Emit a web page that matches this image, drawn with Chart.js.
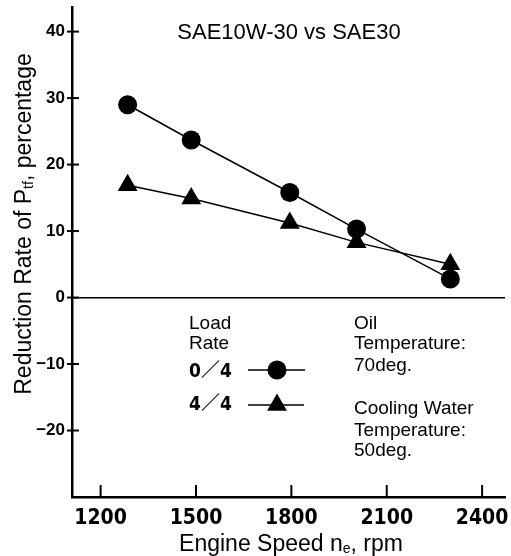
<!DOCTYPE html>
<html>
<head>
<meta charset="utf-8">
<title>Reduction Rate of Ptf vs Engine Speed</title>
<script src="https://cdn.jsdelivr.net/npm/chart.js@4.4.0/dist/chart.umd.min.js"></script>
<style>
  html, body { margin: 0; padding: 0; background: #fff; }
  #wrap { width: 511px; height: 556px; }
</style>
</head>
<body>
<div id="wrap"><canvas id="chart"></canvas></div>
<script>
// engine speed (rpm) of the measured points
const speedNoLoad = [1285, 1485, 1795, 2005, 2300]
const speedFullLoad = [1285, 1485, 1795, 2005, 2300]
// reduction rate of Ptf (%)
const rateNoLoad = [29.0, 23.7, 15.8, 10.3, 2.8]    // load rate 0/4
const rateFullLoad = [16.9, 14.9, 11.2, 8.3, 5.0]   // load rate 4/4
const xTicks = [1200, 1500, 1800, 2100, 2400]
const yTicks = [-20, -10, 0, 10, 20, 30, 40]
const loadLabels = ['0\uFF0F4', '4\uFF0F4']
const noteLines = ['Oil', 'Temperature:', '70deg.', 'Cooling Water', 'Temperature:', '50deg.']

const SANS = '"Liberation Sans", Arial, Helvetica, sans-serif'
const DIGITS = '"Liberation Sans Narrow", "DejaVu Sans Condensed", "Liberation Sans", Arial, "Noto Sans CJK JP", sans-serif'

function toPoints(xs, ys) {
    return xs.map((x, i) => ({ x: x, y: ys[i] }))
}

// text with a small subscript part, e.g. P + tf
function drawParts(ctx, parts, x, y, align) {
    let total = 0
    parts.forEach(p => { ctx.font = p.font; total += ctx.measureText(p.text).width })
    let cx = align === 'center' ? x - total / 2 : x
    parts.forEach(p => {
        ctx.font = p.font
        ctx.fillText(p.text, cx, y + (p.dy || 0))
        cx += ctx.measureText(p.text).width
    })
}

function marker(ctx, style, radius, x, y) {
    ctx.beginPath()
    if (style === 'circle') {
        ctx.arc(x, y, radius, 0, Math.PI * 2)
    } else {
        for (let i = 0; i < 3; i++) {
            const a = i * 2 * Math.PI / 3
            const px = x + Math.sin(a) * radius, py = y - Math.cos(a) * radius
            if (i === 0) ctx.moveTo(px, py); else ctx.lineTo(px, py)
        }
        ctx.closePath()
    }
    ctx.fill()
}

const decorations = {
    id: 'decorations',
    afterDraw(chart) {
        const ctx = chart.ctx
        const xs = chart.scales.x, ys = chart.scales.y
        const area = chart.chartArea
        ctx.save()
        ctx.strokeStyle = '#000'
        ctx.fillStyle = '#000'
        ctx.lineWidth = 2

        // tick marks: y ticks cross the axis, x ticks point inward
        yTicks.forEach(v => {
            const py = ys.getPixelForValue(v)
            ctx.beginPath(); ctx.moveTo(area.left - 5, py); ctx.lineTo(area.left + 7, py); ctx.stroke()
        })
        xTicks.forEach(v => {
            const px = xs.getPixelForValue(v)
            ctx.beginPath(); ctx.moveTo(px, area.bottom); ctx.lineTo(px, area.bottom - 12); ctx.stroke()
        })

        ctx.textBaseline = 'alphabetic'
        ctx.textAlign = 'left'

        // title inside plot
        ctx.font = '22px ' + SANS
        ctx.textAlign = 'center'
        ctx.fillText('SAE10W-30 vs SAE30', 289, 39)
        ctx.textAlign = 'left'

        // x axis title
        drawParts(ctx, [
            { text: 'Engine Speed n', font: '23px ' + SANS },
            { text: 'e', font: '14px ' + SANS, dy: 2 },
            { text: ', rpm', font: '23px ' + SANS }
        ], 291, 551, 'center')

        // y axis title
        ctx.save()
        ctx.translate(31, 224)
        ctx.rotate(-Math.PI / 2)
        drawParts(ctx, [
            { text: 'Reduction Rate of P', font: '23px ' + SANS },
            { text: 'tf', font: '14px ' + SANS, dy: 2 },
            { text: ', percentage', font: '23px ' + SANS }
        ], 0, 0, 'center')
        ctx.restore()

        // legend
        ctx.font = '19px ' + SANS
        ctx.fillText('Load', 189, 329)
        ctx.fillText('Rate', 189, 349)
        ctx.font = 'bold 19px ' + DIGITS
        ctx.textBaseline = 'middle'
        ctx.fillText(loadLabels[0], 189, 372)
        ctx.fillText(loadLabels[1], 189, 405)
        ctx.textBaseline = 'alphabetic'
        ctx.lineWidth = 1.5
        ctx.beginPath(); ctx.moveTo(248, 370); ctx.lineTo(305, 370); ctx.stroke()
        ctx.beginPath(); ctx.moveTo(248, 405); ctx.lineTo(304, 405); ctx.stroke()
        marker(ctx, 'circle', 9.5, 277, 370)
        marker(ctx, 'triangle', 11.5, 277, 405)

        // test conditions
        ctx.font = '19px ' + SANS
        const baselines = [329, 349, 371, 414, 436, 456]
        noteLines.forEach((t, i) => ctx.fillText(t, 354, baselines[i]))

        ctx.restore()
    }
}

const ctx = document.getElementById('chart')
new Chart(ctx, {
    type: 'line',
    data: {
        datasets: [{
            label: 'Load Rate 0/4',
            data: toPoints(speedNoLoad, rateNoLoad),
            borderColor: '#000',
            backgroundColor: '#000',
            borderWidth: 1.5,
            pointStyle: 'circle',
            pointRadius: 9.5,
            pointBorderWidth: 0,
            tension: 0
        }, {
            label: 'Load Rate 4/4',
            data: toPoints(speedFullLoad, rateFullLoad),
            borderColor: '#000',
            backgroundColor: '#000',
            borderWidth: 1.5,
            pointStyle: 'triangle',
            pointRadius: 11.5,
            pointBorderWidth: 0,
            tension: 0
        }]
    },
    options: {
        responsive: true,
        maintainAspectRatio: false,
        animation: false,
        devicePixelRatio: 1,
        layout: { autoPadding: false, padding: { top: 7, right: 6, left: 0, bottom: 0 } },
        plugins: {
            legend: { display: false },
            tooltip: { enabled: false }
        },
        scales: {
            x: {
                type: 'linear',
                min: 1110,
                max: 2472,
                afterBuildTicks: s => { s.ticks = xTicks.map(v => ({ value: v })) },
                afterFit: s => { s.height = 59; s.paddingLeft = 0; s.paddingRight = 0 },
                grid: { display: false },
                border: { display: true, color: '#000', width: 2.5 },
                ticks: {
                    color: '#000',
                    padding: 1,
                    maxRotation: 0,
                    autoSkip: false,
                    font: { family: DIGITS, size: 21, weight: 'bold' },
                    callback: v => String(v)
                }
            },
            y: {
                type: 'linear',
                min: -30,
                max: 43.7,
                afterBuildTicks: s => { s.ticks = yTicks.map(v => ({ value: v })) },
                afterFit: s => { s.width = 72; s.paddingTop = 0; s.paddingBottom = 0 },
                grid: {
                    drawTicks: false,
                    color: c => (c.tick && c.tick.value === 0) ? '#000' : 'rgba(0,0,0,0)',
                    lineWidth: 1.5
                },
                border: { display: true, color: '#000', width: 2.5 },
                ticks: {
                    color: '#000',
                    padding: 7,
                    autoSkip: false,
                    font: { family: SANS, size: 17, weight: 'bold' },
                    callback: v => String(v).replace('-', '\u2212')
                }
            }
        }
    },
    plugins: [decorations]
})
</script>
</body>
</html>
